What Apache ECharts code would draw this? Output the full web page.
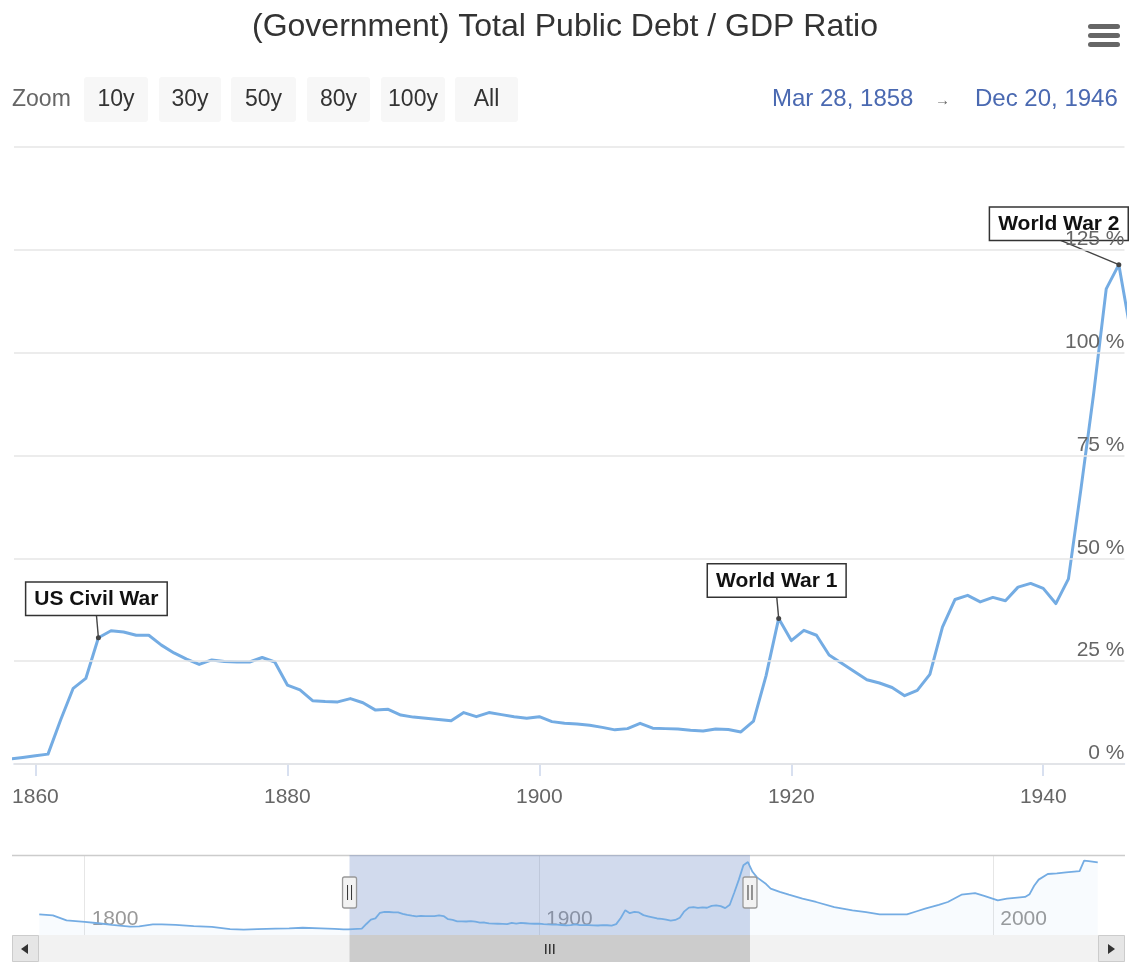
<!DOCTYPE html>
<html>
<head>
<meta charset="utf-8">
<title>(Government) Total Public Debt / GDP Ratio</title>
<script src="https://cdn.jsdelivr.net/npm/echarts@6/dist/echarts.min.js"></script>
<style>
  html, body { margin: 0; padding: 0; background: #ffffff; }
  #chart { width: 1130px; height: 966px; }
</style>
</head>
<body>
<div id="chart"></div>
<script>
// ---- data ---------------------------------------------------------------
// Fiscal years and total public debt as a percentage of GDP.
const years = [
  1790, 1793, 1796, 1800, 1803, 1806, 1810, 1812, 1815, 1817, 1820, 1824, 1828, 1832, 1835, 1838, 1842, 1845, 1848, 1852, 1855, 1857,
  1858, 1859, 1860, 1861, 1862, 1863, 1864, 1865, 1866, 1867,
  1868, 1869, 1870, 1871, 1872, 1873, 1874, 1875, 1876, 1877,
  1878, 1879, 1880, 1881, 1882, 1883, 1884, 1885, 1886, 1887,
  1888, 1889, 1890, 1891, 1892, 1893, 1894, 1895, 1896, 1897,
  1898, 1899, 1900, 1901, 1902, 1903, 1904, 1905, 1906, 1907,
  1908, 1909, 1910, 1911, 1912, 1913, 1914, 1915, 1916, 1917,
  1918, 1919, 1920, 1921, 1922, 1923, 1924, 1925, 1926, 1927,
  1928, 1929, 1930, 1931, 1932, 1933, 1934, 1935, 1936, 1937,
  1938, 1939, 1940, 1941, 1942, 1943, 1944, 1945, 1946, 1947,
  1948, 1950, 1951, 1953, 1955, 1958, 1961, 1965, 1969, 1972, 1975, 1978, 1981, 1983, 1985, 1988, 1990,
  1993, 1996, 1998, 2001, 2003, 2007, 2008, 2009, 2010, 2012, 2014, 2016, 2019, 2020, 2021, 2023
];
const debtRatio = [
  28, 26, 17, 14.5, 12, 9, 6, 6.5, 10, 10, 9, 7, 5.5, 1.5, 0.5, 1.5, 2.5, 3, 4, 3, 2, 1.2,
  1.2, 1.6, 2.0, 2.4, 10.7, 18.4, 20.8, 30.7, 32.4, 32.1,
  31.3, 31.3, 28.9, 27.0, 25.5, 24.2, 25.3, 24.9, 24.8, 24.8,
  25.9, 24.8, 19.2, 18.0, 15.4, 15.2, 15.1, 15.9, 14.9, 13.1,
  13.3, 11.9, 11.4, 11.1, 10.8, 10.5, 12.5, 11.5, 12.5, 12.0,
  11.5, 11.1, 11.5, 10.3, 9.9, 9.7, 9.4, 8.9, 8.3, 8.6,
  9.9, 8.7, 8.6, 8.5, 8.2, 8.0, 8.5, 8.4, 7.8, 10.4,
  21.5, 35.4, 30.0, 32.5, 31.3, 26.5, 24.5, 22.5, 20.5, 19.7,
  18.6, 16.6, 17.9, 21.8, 33.3, 40.0, 41.0, 39.4, 40.5, 39.7,
  43.0, 43.9, 42.7, 39.0, 45.0, 67, 90, 115.5, 121.4, 104,
  94, 82, 74, 68, 63, 56, 50, 41, 35, 32, 28, 28, 28, 33, 38, 45, 50,
  63, 66, 61, 53, 56, 59, 64, 79, 90, 100, 101, 103, 105, 124, 123, 121
];

// Visible window of the main chart and full span of the navigator (years)
const viewRange = [1858.3, 1946.45];
const navigatorRange = [1784, 2029];

// Axis ticks
const mainYearTicks = [1860, 1880, 1900, 1920, 1940];
const navigatorYearTicks = [1800, 1900, 2000];
const percentTicks = [0, 25, 50, 75, 100, 125, 150];

// Annotated events
const eventYears = [1865, 1919, 1946];
const eventNames = ['US Civil War', 'World War 1', 'World War 2'];

// Range selector texts
const zoomButtons = ['10y', '30y', '50y', '80y', '100y', 'All'];
const rangeTexts = ['Mar 28, 1858', 'Dec 20, 1946'];

// ---- layout / style -----------------------------------------------------
const FONT = '"Liberation Sans", Arial, Helvetica, sans-serif';
const LINE_COLOR = '#74ace3';
const eventBoxOffsets = [[-2, -23], [-2, -22], [-60, -25]];
const buttonLefts = [84, 159, 231, 307, 381, 455];
const buttonWidths = [64, 62, 65, 63, 64, 63];

const points = years.map((y, i) => [y, debtRatio[i]]);
const eventPoints = eventYears.map((y, i) => [y, debtRatio[years.indexOf(y)], i]);

// ---- range selector, menu icon, scrollbar track --------------------------
const graphics = [];
graphics.push({
  type: 'text', left: 12, top: 88, z: 5,
  style: { text: 'Zoom', fill: '#666666', font: '23px ' + FONT }
});
zoomButtons.forEach((label, i) => {
  graphics.push({
    type: 'rect', left: buttonLefts[i], top: 77, z: 5,
    shape: { width: buttonWidths[i], height: 45, r: 3 },
    style: { fill: '#f7f7f7' }
  });
  graphics.push({
    type: 'text', x: buttonLefts[i] + buttonWidths[i] / 2, y: 100, z: 6,
    style: { text: label, fill: '#333333', font: '23px ' + FONT, align: 'center', verticalAlign: 'middle' }
  });
});
graphics.push({
  type: 'text', left: 772, top: 87, z: 5,
  style: { text: rangeTexts[0], fill: '#4a69b1', font: '24px ' + FONT }
});
graphics.push({
  type: 'text', left: 935, top: 93, z: 5,
  style: { text: '\u2192', fill: '#666666', font: '15px ' + FONT }
});
graphics.push({
  type: 'text', left: 975, top: 87, z: 5,
  style: { text: rangeTexts[1], fill: '#4a69b1', font: '24px ' + FONT }
});
// context menu icon
[24, 33, 42].forEach(y => graphics.push({
  type: 'rect', left: 1088, top: y, z: 5,
  shape: { width: 32, height: 5, r: 2.5 }, style: { fill: '#666666' }
}));
// navigator outline and scrollbar track with its arrow buttons
graphics.push({
  type: 'line', z: 1,
  shape: { x1: 12, y1: 855.5, x2: 1125, y2: 855.5 },
  style: { stroke: '#cccccc', lineWidth: 1.5 }
});
graphics.push({
  type: 'rect', z: 1, left: 12, top: 935,
  shape: { width: 1113, height: 27 },
  style: { fill: '#f2f2f2' }
});
graphics.push({
  type: 'rect', z: 3, left: 12, top: 935,
  shape: { width: 26, height: 26 },
  style: { fill: '#e6e6e6', stroke: '#cccccc', lineWidth: 1 }
});
graphics.push({
  type: 'polygon', z: 4, left: 21, top: 944,
  shape: { points: [[7, 0], [7, 10], [0, 5]] },
  style: { fill: '#333333' }
});
graphics.push({
  type: 'rect', z: 3, left: 1098, top: 935,
  shape: { width: 26, height: 26 },
  style: { fill: '#e6e6e6', stroke: '#cccccc', lineWidth: 1 }
});
graphics.push({
  type: 'polygon', z: 4, left: 1108, top: 944,
  shape: { points: [[0, 0], [0, 10], [7, 5]] },
  style: { fill: '#333333' }
});

// ---- chart --------------------------------------------------------------
const chart = echarts.init(document.getElementById('chart'), null, { renderer: 'canvas' });

const option = {
  animation: false,
  backgroundColor: '#ffffff',
  textStyle: { fontFamily: FONT },
  title: {
    text: '(Government) Total Public Debt / GDP Ratio',
    left: 'center', top: 6,
    textStyle: { fontSize: 32, fontWeight: 'normal', color: '#333333', fontFamily: FONT }
  },
  graphic: graphics,
  grid: [
    { left: 14, right: 5.5, top: 147, bottom: 202, outerBoundsMode: 'none' },
    { left: 12, right: 5, top: 855, height: 80, outerBoundsMode: 'none' }
  ],
  xAxis: [
    {
      type: 'value', gridIndex: 0, min: viewRange[0], max: viewRange[1],
      axisLine: { lineStyle: { color: '#ccd6eb', width: 1.5 } },
      axisTick: { customValues: mainYearTicks, length: 12, lineStyle: { color: '#ccd6eb', width: 1.5 } },
      axisLabel: { customValues: mainYearTicks, color: '#666666', fontSize: 21, margin: 23, formatter: v => String(v) },
      splitLine: { show: false }
    },
    {
      type: 'value', gridIndex: 1, min: navigatorRange[0], max: navigatorRange[1],
      axisLine: { show: false },
      axisTick: { show: false, customValues: navigatorYearTicks },
      axisLabel: {
        inside: true, customValues: navigatorYearTicks, align: 'left', margin: 5,
        padding: [0, 0, 0, 7], color: '#999999', fontSize: 21, formatter: v => String(v)
      },
      splitLine: { show: true, lineStyle: { color: '#e6e6e6', width: 1 } }
    }
  ],
  yAxis: [
    {
      type: 'value', gridIndex: 0, position: 'right', min: 0, max: 150, interval: 25, z: 10,
      axisLine: { show: false }, axisTick: { show: false },
      splitLine: { lineStyle: { color: '#e6e6e6', width: 1.5 } },
      axisLabel: {
        inside: true, margin: 0, color: '#666666', fontSize: 21,
        verticalAlign: 'bottom', padding: [0, 0, 0, 0], showMaxLabel: false,
        formatter: v => (percentTicks.indexOf(v) >= 0 && v < 150 ? v + ' %' : '')
      }
    },
    { type: 'value', gridIndex: 1, min: -9, max: 134, show: false }
  ],
  series: [
    {
      name: 'Total Public Debt / GDP',
      type: 'line', xAxisIndex: 0, yAxisIndex: 0,
      data: points, showSymbol: false, clip: true,
      lineStyle: { color: LINE_COLOR, width: 3, join: 'round', cap: 'round' },
      z: 3
    },
    {
      name: 'events',
      type: 'custom', xAxisIndex: 0, yAxisIndex: 0, clip: false, z: 4,
      data: eventPoints,
      renderItem: function (params, api) {
        const p = api.coord([api.value(0), api.value(1)]);
        const i = api.value(2);
        const bx = p[0] + eventBoxOffsets[i][0];
        const by = p[1] + eventBoxOffsets[i][1];
        return {
          type: 'group',
          children: [
            { type: 'line', shape: { x1: bx, y1: by, x2: p[0], y2: p[1] },
              style: { stroke: '#444444', lineWidth: 1.4 } },
            { type: 'circle', shape: { cx: p[0], cy: p[1], r: 2.5 }, style: { fill: '#444444' } },
            { type: 'text',
              style: {
                x: bx, y: by, text: eventNames[i], align: 'center', verticalAlign: 'bottom',
                fontSize: 21, fontWeight: 'bold', fontFamily: FONT, fill: '#111111',
                backgroundColor: '#ffffff', borderColor: '#333333', borderWidth: 1.5,
                padding: [6, 8, 5, 8]
              } }
          ]
        };
      }
    },
    {
      name: 'navigator',
      type: 'line', xAxisIndex: 1, yAxisIndex: 1,
      data: points, showSymbol: false, clip: true, silent: true,
      lineStyle: { color: LINE_COLOR, width: 1.8 },
      areaStyle: { color: 'rgba(124,181,236,0.08)', origin: 'start' },
      markArea: {
        silent: true,
        itemStyle: { color: 'rgba(102,133,194,0.3)' },
        data: [[{ xAxis: viewRange[0] }, { xAxis: viewRange[1] }]]
      },
      z: 2
    },
    {
      name: 'window',
      type: 'custom', xAxisIndex: 1, yAxisIndex: 1, clip: false, silent: true, z: 6,
      encode: { x: [0, 1] },
      data: [[viewRange[0], viewRange[1]]],
      renderItem: function (params, api) {
        const a = api.coord([api.value(0), 0])[0];
        const b = api.coord([api.value(1), 0])[0];
        const mid = (a + b) / 2;
        const kids = [
          { type: 'rect', shape: { x: a, y: 935, width: b - a, height: 27 }, style: { fill: '#cccccc' } }
        ];
        [-4, 0, 4].forEach(d => kids.push({
          type: 'line', shape: { x1: mid + d, y1: 944, x2: mid + d, y2: 954 },
          style: { stroke: '#333333', lineWidth: 1.5 }
        }));
        [a, b].forEach(x => {
          kids.push({ type: 'rect', shape: { x: x - 7, y: 877, width: 14, height: 31, r: 2 },
            style: { fill: '#f2f2f2', stroke: '#999999', lineWidth: 1.3 } });
          kids.push({ type: 'line', shape: { x1: x - 2, y1: 885, x2: x - 2, y2: 900 },
            style: { stroke: '#333333', lineWidth: 1 } });
          kids.push({ type: 'line', shape: { x1: x + 2, y1: 885, x2: x + 2, y2: 900 },
            style: { stroke: '#333333', lineWidth: 1 } });
        });
        return { type: 'group', children: kids };
      }
    }
  ]
};

chart.setOption(option);
</script>
</body>
</html>
